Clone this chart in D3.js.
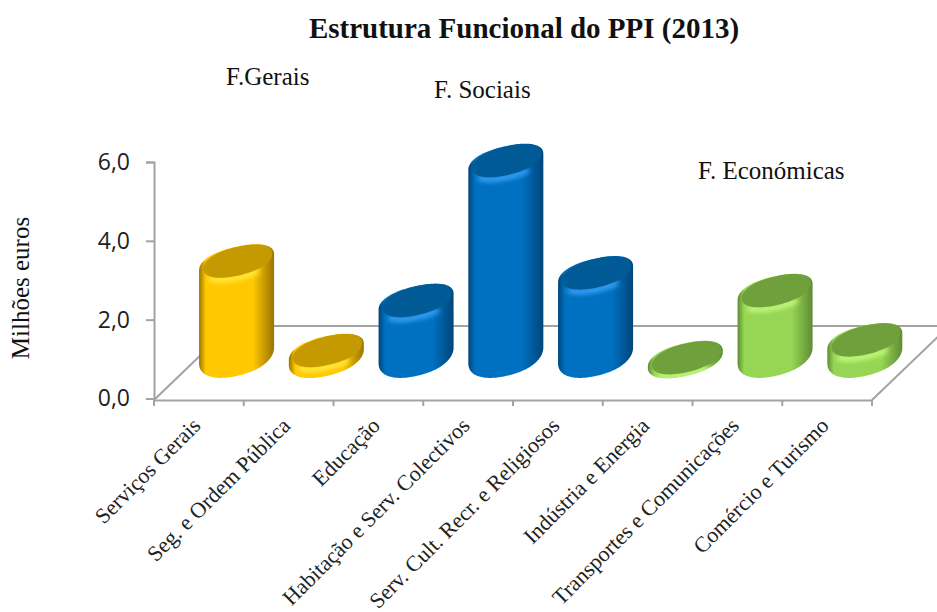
<!DOCTYPE html>
<html><head><meta charset="utf-8">
<script src="https://cdn.jsdelivr.net/npm/d3@7"></script>
<style>html,body{margin:0;padding:0;background:#fff;overflow:hidden}svg{display:block}</style>
</head><body><svg id="c" width="937" height="612"></svg>
<script>
const categories = ["Serviços Gerais","Seg. e Ordem Pública","Educação","Habitação e Serv. Colectivos","Serv. Cult. Recr. e Religiosos","Indústria e Energia","Transportes e Comunicações","Comércio e Turismo"];
const values = [2.47,0.2,1.47,5.02,2.17,0.02,1.72,0.47];
const groups = ["g","g","s","s","s","e","e","e"];
const yTicks = [0,2,4,6];
const palette = {
  g:{edge:"#9a7400",mid:"#ffc800",top:"#c49a00",hi:"#fff04a"},
  s:{edge:"#00457a",mid:"#0070c0",top:"#005a96",hi:"#3ea8ff"},
  e:{edge:"#5f8c34",mid:"#96d654",top:"#70a03c",hi:"#c8ff80"}
};
const notes = [["F.Gerais",226,85],["F. Sociais",434,98],["F. Económicas",698,179]];
const serif = "'Liberation Serif','DejaVu Serif',serif";
const axisCol = "#a3a3a3";

const svg = d3.select("#c");
const x = d3.scaleBand().domain(categories).range([154,872]).padding(0);
const y = d3.scaleLinear().domain([0,6]).range([398.5,162]);
const depthX = 77, depthY = -74;

const defs = svg.append("defs");
defs.append("filter").attr("id","blur").attr("x","-40%").attr("y","-100%").attr("width","180%").attr("height","300%")
  .append("feGaussianBlur").attr("stdDeviation",2.8);
Object.entries(palette).forEach(([k,p])=>{
  const g = defs.append("linearGradient").attr("id","grad-"+k);
  [[0,p.edge],[0.09,p.mid],[0.72,p.mid],[1,p.edge]].forEach(([o,c])=>
    g.append("stop").attr("offset",o).attr("stop-color",c));
});

const fl = svg.append("g").attr("fill","none").attr("stroke",axisCol).attr("stroke-width",2);
const fy = y(0)+1.5, x0 = x.range()[0], x1 = x.range()[1];
fl.append("line").attr("x1",x0).attr("y1",fy).attr("x2",x0+depthX).attr("y2",fy+depthY);
fl.append("line").attr("x1",x1).attr("y1",fy).attr("x2",x1+depthX).attr("y2",fy+depthY);
fl.append("line").attr("x1",x0+depthX).attr("y1",fy+depthY).attr("x2",x1+depthX).attr("y2",fy+depthY);

const gy = svg.append("g").attr("transform",`translate(${x0},0)`)
  .call(d3.axisLeft(y).tickValues(yTicks).tickSize(8).tickPadding(16).tickFormat(d=>d3.format(".1f")(d).replace(".",",")));
const gx = svg.append("g").attr("transform",`translate(0,${fy})`)
  .call(d3.axisBottom(x).tickSize(0).tickFormat(""));
gx.selectAll(".tick").remove();
gx.selectAll(".edge").data(x.domain().map(d=>x(d)).concat([x1])).enter().append("line").attr("class","edge")
  .attr("x1",d=>d).attr("x2",d=>d).attr("y1",0).attr("y2",6);
gx.selectAll(".edge").attr("stroke",axisCol).attr("stroke-width",2);
[gy,gx].forEach(g=>{g.selectAll("path").attr("stroke",axisCol).attr("stroke-width",2);g.selectAll(".tick line").attr("stroke",axisCol).attr("stroke-width",2);});
gy.selectAll("text").attr("font-family","'Open Sans',sans-serif").attr("font-size",23).attr("fill","#222");

const a = x.step()*0.418, s = 8, h = 16;
const base = y(0)+depthY/2-1.5;
const line = d3.line();
const pw = (v,q) => Math.sign(v)*Math.pow(Math.abs(v),q);
const ell = (cx,cy,ra,rh,rs,t0,t1,q=1,n=80)=>d3.range(n+1).map(i=>{
  const t=t0+(t1-t0)*i/n, c=pw(Math.cos(t),q), b=pw(Math.sin(t),q);
  return [cx+ra*c, cy-rs*c+rh*b];
});
const bars = svg.append("g").selectAll("g").data(categories).enter().append("g");
bars.each(function(d,i){
  const g = d3.select(this), p = palette[groups[i]];
  const cx = x(d)+x.bandwidth()/2+depthX/2-0.8;
  const hpx = y(0)-y(values[i]);
  const yt = base-hpx;
  const bulge = Math.min(1,hpx/12);
  const outline = ell(cx,yt,a,h,s,Math.PI,2*Math.PI,0.88)
    .concat(ell(cx,base-5*bulge,a,h+5*bulge,s,0,Math.PI,0.9));
  const id = "clip"+i;
  defs.append("clipPath").attr("id",id).append("path").attr("d",line(outline)+"Z");
  g.append("path").attr("d",line(outline)+"Z").attr("fill",`url(#grad-${groups[i]})`);
  const inner = g.append("g").attr("clip-path",`url(#${id})`);
  inner.append("path").attr("d",line(ell(cx+1,yt+0.5,a-3,14.5,7.5,Math.PI*0.3,Math.PI*0.8,0.92)))
    .attr("fill","none").attr("stroke",p.hi).attr("stroke-width",5).attr("filter","url(#blur)");
  g.append("path").attr("d",line(ell(cx+1.2,yt-1.5,a-3,14.5,7.5,0,2*Math.PI,0.92))+"Z").attr("fill",p.top);
});

svg.append("text").attr("x",524).attr("y",38).attr("text-anchor","middle")
  .attr("font-family",serif).attr("font-weight","bold").attr("font-size",29).attr("fill","#111")
  .text("Estrutura Funcional do PPI (2013)");
svg.append("text").attr("transform","translate(29,288) rotate(-90)").attr("text-anchor","middle")
  .attr("font-family",serif).attr("font-size",25).attr("fill","#111").text("Milhões euros");
svg.selectAll(".note").data(notes).enter().append("text").attr("class","note")
  .attr("x",d=>d[1]).attr("y",d=>d[2]).attr("font-family",serif).attr("font-size",25).attr("fill","#111").text(d=>d[0]);
svg.selectAll(".cat").data(categories).enter().append("text").attr("class","cat")
  .attr("transform",d=>`translate(${x(d)+x.bandwidth()/2+3},427) rotate(-45)`)
  .attr("text-anchor","end").attr("font-family",serif).attr("font-size",22).attr("fill","#222").text(d=>d);
</script></body></html>
